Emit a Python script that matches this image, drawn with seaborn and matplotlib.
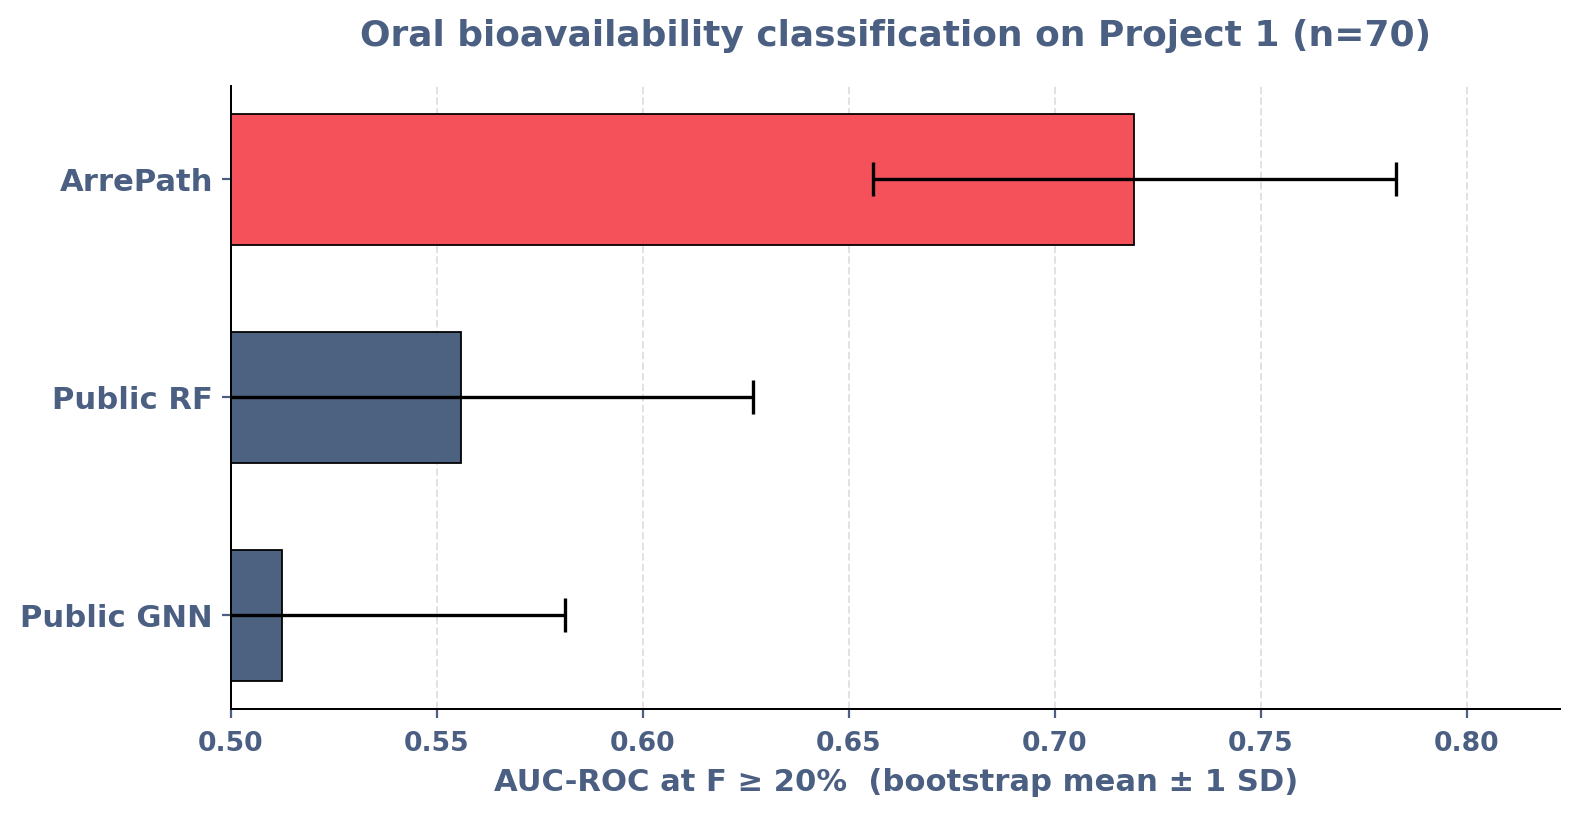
import matplotlib
matplotlib.use("Agg")
import matplotlib.pyplot as plt
import seaborn as sns
import pandas as pd

models = ["ArrePath", "Public RF", "Public GNN"]
auc_mean = [0.7193, 0.5558, 0.5125]
auc_sd = [0.0634, 0.0709, 0.0687]
bar_colors = ["#F5515A", "#4D6180", "#4D6180"]

TEXT = "#4A5F82"

sns.set_theme(style="white")
plt.rcParams['font.family'] = ['DejaVu Sans']

fig = plt.figure(figsize=(1581 / 160, 818 / 160), dpi=160)
ax = fig.add_axes([0.146, 0.1333, 0.841, 0.762])

df = pd.DataFrame({"model": models, "auc": auc_mean})
sns.barplot(data=df, x="auc", y="model", hue="model", palette=bar_colors,
            saturation=1, orient="h", width=0.6, edgecolor="black",
            linewidth=0.8, legend=False, ax=ax, zorder=2)
ax.errorbar(auc_mean, range(len(models)), xerr=auc_sd, fmt="none",
            ecolor="black", elinewidth=1.5, capsize=7.5, capthick=1.5, zorder=3)
ax.axvline(0.5, color="black", linestyle="--", linewidth=0.8, zorder=4)

ax.set_xlim(0.5, max(m + s for m, s in zip(auc_mean, auc_sd)) + 0.04)
ax.set_ylim(2.43, -0.43)
ticks = [0.50, 0.55, 0.60, 0.65, 0.70, 0.75, 0.80]
ax.set_xticks(ticks)
ax.set_xticklabels([f"{v:.2f}" for v in ticks])
ax.grid(axis="x", linestyle="--", color="#E2E2E2", linewidth=0.9, zorder=0)
ax.set_axisbelow(True)

for s in ["top", "right"]:
    ax.spines[s].set_visible(False)
for s in ["left", "bottom"]:
    ax.spines[s].set_color("black")
    ax.spines[s].set_linewidth(0.9)

ax.tick_params(axis="x", bottom=True, colors=TEXT, labelsize=12, length=4, width=1, pad=6)
ax.tick_params(axis="y", left=True, colors=TEXT, labelsize=13.8, length=4, width=1, pad=4)
for lab in ax.get_xticklabels() + ax.get_yticklabels():
    lab.set_fontweight("bold")
    lab.set_color(TEXT)

ax.set_ylabel("")
ax.set_xlabel("AUC-ROC at F \u2265 20%  (bootstrap mean \u00b1 1 SD)",
              fontsize=13.8, fontweight="bold", color=TEXT, labelpad=5)
ax.set_title("Oral bioavailability classification on Project 1 (n=70)",
             fontsize=16.2, fontweight="bold", color=TEXT, pad=18)

fig.savefig("out.png", dpi=160)
